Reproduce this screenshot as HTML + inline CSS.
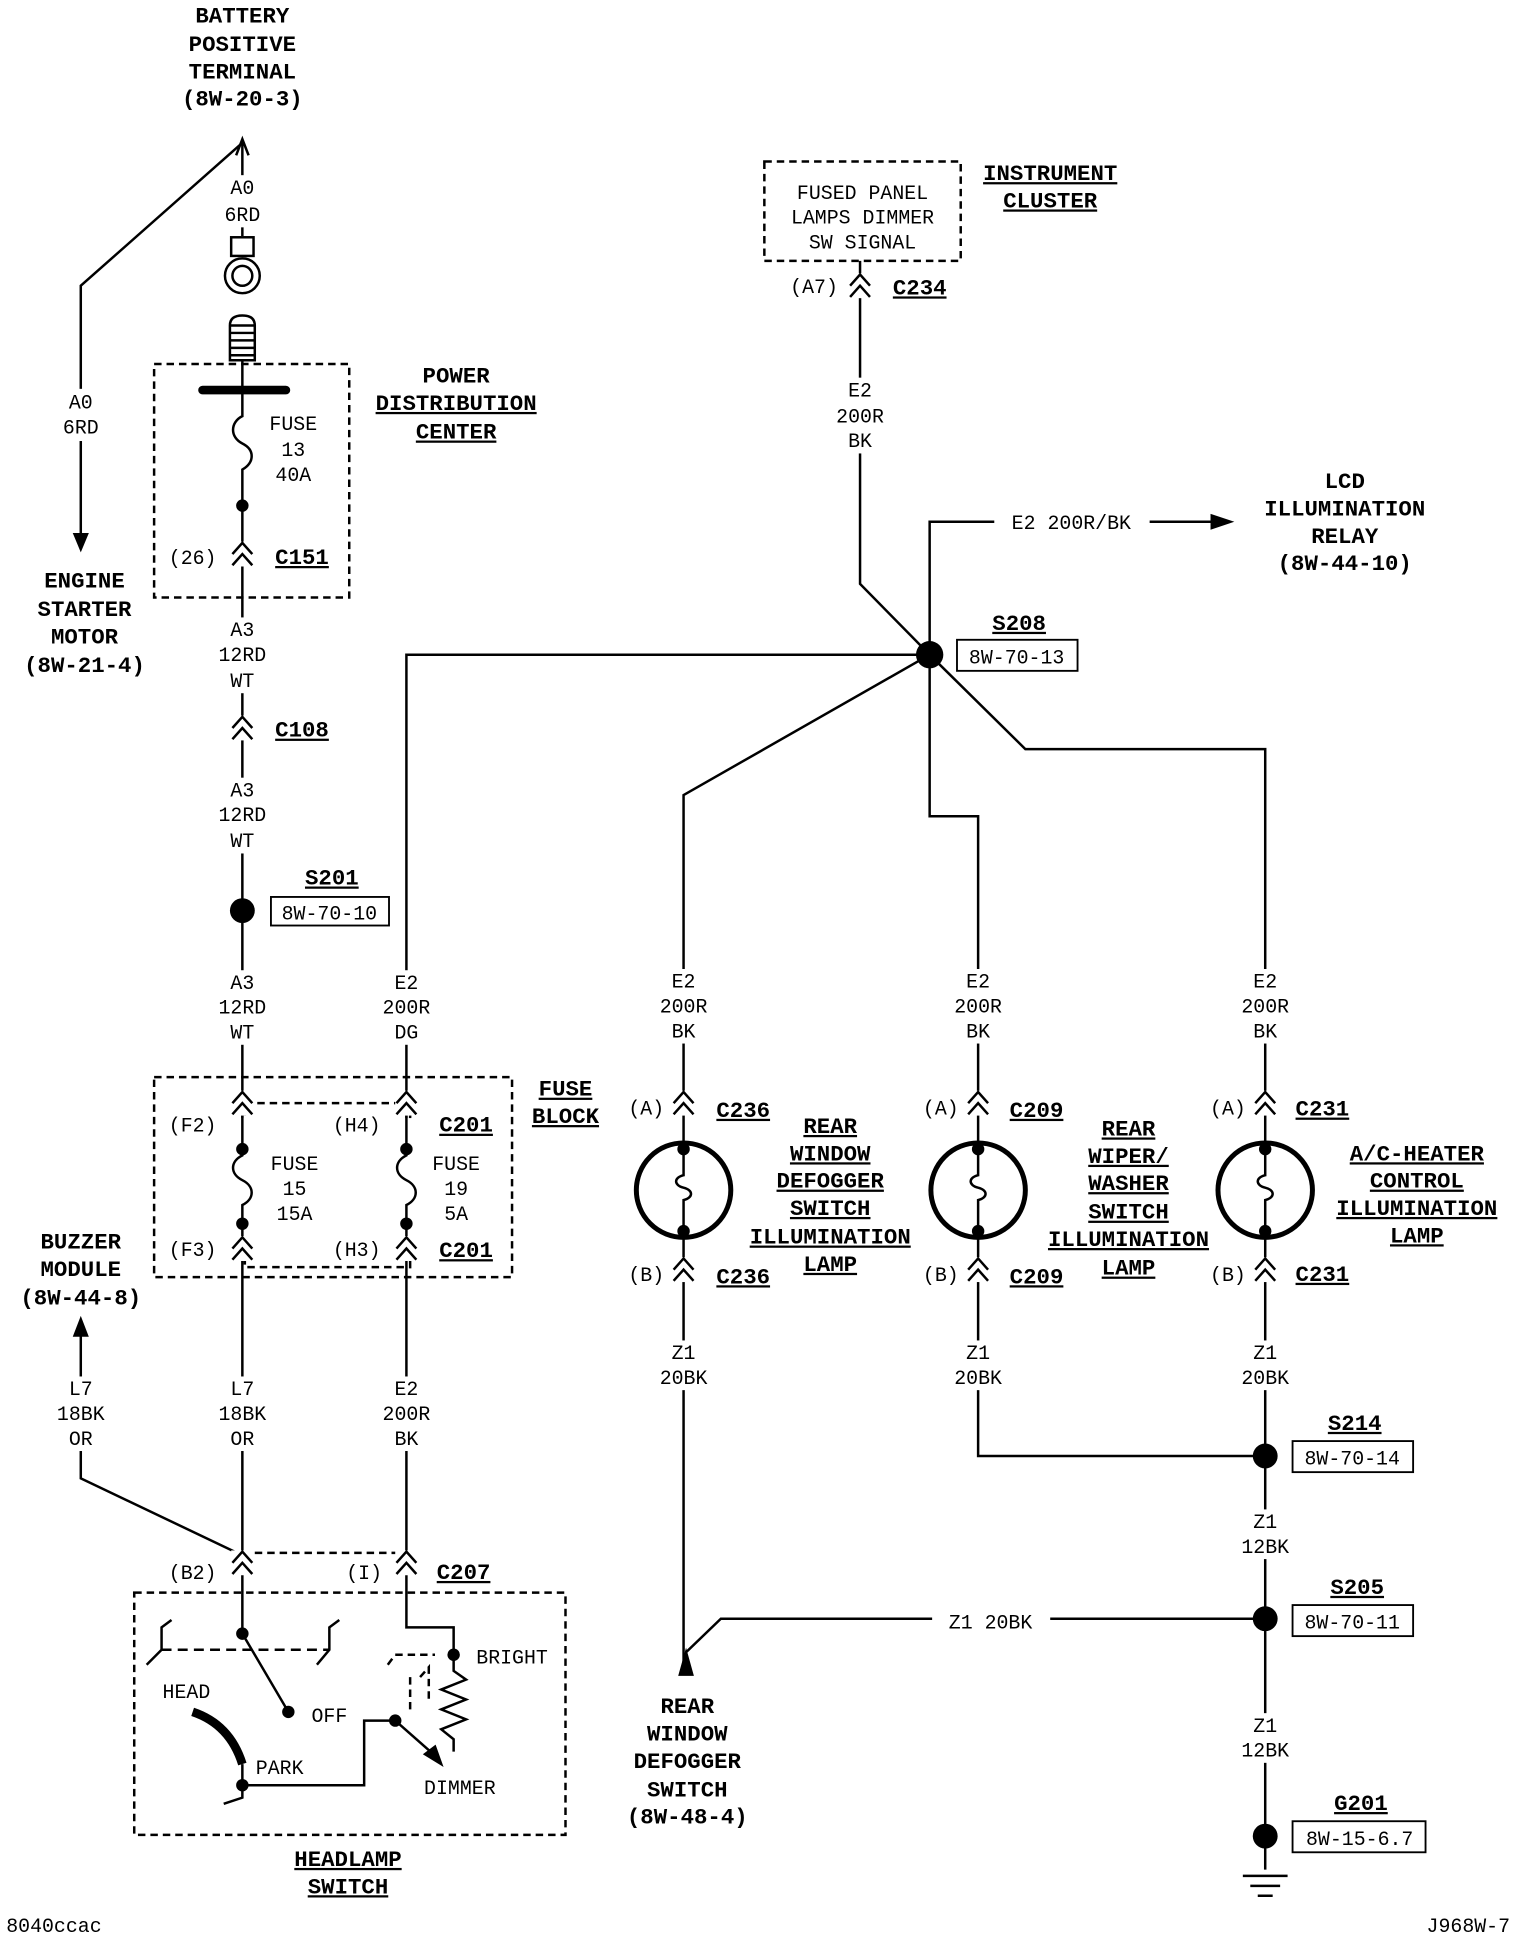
<!DOCTYPE html>
<html><head><meta charset="utf-8"><style>
html,body{margin:0;padding:0;background:#fff}
svg{display:block}
text{font-family:"Liberation Mono",monospace;fill:#000}
.b{font-weight:bold;font-size:18px}
.r{font-size:16px}
.u{text-decoration:underline}
</style></head><body>
<svg width="1520" height="1938" viewBox="0 0 1223 1560" preserveAspectRatio="none" xmlns="http://www.w3.org/2000/svg">
<defs>
<g id="ch"><rect x="-9" y="-6" width="18" height="20" fill="#fff"/><path d="M-8,4 L0,-5 L8,4 M-8,13 L0,4 L8,13" fill="none" stroke="#000" stroke-width="2"/></g>
</defs>
<g stroke="#000" stroke-width="2" fill="none">
<path d="M195,115 L195,190 M195,115 L65,230 L65,435"/>
<path d="M190,125 L195,112 L200,125" />
<path d="M60,430 L65,442 L70,430Z" fill="#000"/>
<rect x="186" y="191" width="18" height="15"/>
<circle cx="195" cy="222" r="14"/><circle cx="195" cy="222" r="8"/>
<path d="M185,290 L185,262 Q185,254 195,254 Q205,254 205,262 L205,290 Z M185,262 H205 M185,268 H205 M185,274 H205 M185,280 H205 M185,286 H205"/>
<path d="M195,290 V314"/>
<path d="M163,314 H230" stroke-width="7" stroke-linecap="round"/>
<path d="M195,314 V335 C185,340 185,352 195,357 C205,362 205,372 195,378 V460"/>
<rect x="124" y="293" width="157" height="188" stroke-dasharray="6,4"/>
<path d="M195,460 V1258"/>
<path d="M327,1258 V527 H748"/>
<rect x="124" y="867" width="288" height="161" stroke-dasharray="6,4"/>
<rect x="197" y="888" width="133" height="132" stroke-dasharray="6,4"/>
<rect x="190" y="900" width="145" height="115" fill="#fff" stroke="none"/>
<path d="M195,888 V930 C185,935 185,945 195,950 C205,955 205,965 195,970 V1012"/>
<path d="M327,888 V930 C317,935 317,945 327,950 C337,955 337,965 327,970 V1012"/>
<path d="M60,1075 L65,1062 L70,1075Z" fill="#000"/>
<path d="M65,1075 V1190 L195,1252"/>
<path d="M195,1250 H327" stroke-dasharray="6,4"/>
<rect x="108" y="1282" width="347" height="195" stroke-dasharray="6,4"/>
<path d="M195,1258 V1315 L232,1378"/>
<path d="M130,1328 H265" stroke-dasharray="8,5"/>
<path d="M118,1340 L130,1328 L130,1310 L138,1304 M255,1340 L265,1328 L265,1310 L273,1304"/>
<path d="M155,1378 Q185,1388 195,1420" stroke-width="7"/>
<path d="M195,1420 V1447 L180,1452 M195,1437 H293 V1385 H318"/>
<path d="M327,1258 V1310 H365 V1345 L375,1352 L355,1360 L375,1368 L355,1376 L375,1384 L355,1392 L365,1400 V1410"/>
<path d="M318,1385 L352,1415"/><path d="M342,1412 L355,1420 L350,1406Z" fill="#000"/>
<path d="M312,1340 L318,1332 H350 M338,1350 L345,1342 V1370 M330,1350 V1380" stroke-dasharray="6,4"/>
<rect x="615" y="130" width="158" height="80" stroke-dasharray="6,4"/>
<path d="M692,210 V470 L748,527"/>
<path d="M748,527 V420 H978"/>
<path d="M975,415 L990,420 L975,425Z" fill="#000"/>
<path d="M748,527 L550,640 V1340"/>
<path d="M748,527 V657 H787 V1172 H1018"/>
<path d="M748,527 L825,603 H1018 V1505"/>
<path d="M1018,1303 H580 L552,1330"/>
<path d="M547,1348 L552,1330 L557,1348Z" fill="#000"/>
<path d="M1000,1510 H1036 M1006,1518 H1030 M1012,1526 H1024"/>
</g>
<g stroke="#000" fill="none">
<g transform="translate(550,958)"><circle r="38" fill="#fff" stroke-width="4"/><path d="M0,-33 V-12 C-8,-10 -8,-4 0,-2 C8,0 8,6 0,8 V33" stroke-width="2"/></g>
<g transform="translate(787,958)"><circle r="38" fill="#fff" stroke-width="4"/><path d="M0,-33 V-12 C-8,-10 -8,-4 0,-2 C8,0 8,6 0,8 V33" stroke-width="2"/></g>
<g transform="translate(1018,958)"><circle r="38" fill="#fff" stroke-width="4"/><path d="M0,-33 V-12 C-8,-10 -8,-4 0,-2 C8,0 8,6 0,8 V33" stroke-width="2"/></g>
</g>
<g fill="#000">
<circle cx="195" cy="407" r="5"/><circle cx="195" cy="733" r="10"/>
<circle cx="195" cy="925" r="5"/><circle cx="195" cy="985" r="5"/>
<circle cx="327" cy="925" r="5"/><circle cx="327" cy="985" r="5"/>
<circle cx="195" cy="1315" r="5"/><circle cx="232" cy="1378" r="5"/><circle cx="195" cy="1437" r="5"/><circle cx="318" cy="1385" r="5"/><circle cx="365" cy="1332" r="5"/>
<circle cx="748" cy="527" r="11"/>
<circle cx="550" cy="925" r="5"/><circle cx="550" cy="991" r="5"/>
<circle cx="787" cy="925" r="5"/><circle cx="787" cy="991" r="5"/>
<circle cx="1018" cy="925" r="5"/><circle cx="1018" cy="991" r="5"/>
<circle cx="1018" cy="1172" r="10"/><circle cx="1018" cy="1303" r="10"/><circle cx="1018" cy="1478" r="10"/>
</g>
<use href="#ch" x="195" y="442"/><use href="#ch" x="195" y="582"/>
<use href="#ch" x="195" y="884"/><use href="#ch" x="327" y="884"/>
<use href="#ch" x="195" y="1001"/><use href="#ch" x="327" y="1001"/>
<use href="#ch" x="195" y="1254"/><use href="#ch" x="327" y="1254"/>
<use href="#ch" x="692" y="226"/>
<use href="#ch" x="550" y="884"/><use href="#ch" x="787" y="884"/><use href="#ch" x="1018" y="884"/>
<use href="#ch" x="550" y="1018"/><use href="#ch" x="787" y="1018"/><use href="#ch" x="1018" y="1018"/>
<g fill="#fff" stroke="#000" stroke-width="1.5">
<rect x="218" y="722" width="95" height="23"/><rect x="770" y="515" width="97" height="25"/>
<rect x="1040" y="1160" width="97" height="25"/><rect x="1040" y="1292" width="97" height="25"/><rect x="1040" y="1466" width="107" height="25"/>
</g>
<g fill="#fff">
<rect x="800" y="410" width="125" height="20"/>
<rect x="750" y="1294" width="95" height="20"/>
<rect x="175" y="141" width="40" height="42"/>
<rect x="45" y="313" width="40" height="42"/>
<rect x="173" y="497" width="44" height="61"/>
<rect x="173" y="626" width="44" height="61"/>
<rect x="173" y="781" width="44" height="60"/>
<rect x="305" y="781" width="44" height="60"/>
<rect x="43" y="1108" width="44" height="60"/>
<rect x="173" y="1108" width="44" height="60"/>
<rect x="305" y="1108" width="44" height="60"/>
<rect x="670" y="304" width="44" height="61"/>
<rect x="528" y="780" width="44" height="60"/>
<rect x="765" y="780" width="44" height="60"/>
<rect x="996" y="780" width="44" height="60"/>
<rect x="528" y="1079" width="44" height="40"/>
<rect x="765" y="1079" width="44" height="40"/>
<rect x="996" y="1079" width="44" height="40"/>
<rect x="996" y="1215" width="44" height="40"/>
<rect x="996" y="1379" width="44" height="40"/>
</g>
<g class="b" text-anchor="middle">
<text x="195" y="18">BATTERY</text><text x="195" y="41">POSITIVE</text><text x="195" y="63">TERMINAL</text><text x="195" y="85">(8W-20-3)</text>
<text x="68" y="473">ENGINE</text><text x="68" y="496">STARTER</text><text x="68" y="518">MOTOR</text><text x="68" y="541">(8W-21-4)</text>
<text x="367" y="308">POWER</text><text x="367" y="330" class="u">DISTRIBUTION</text><text x="367" y="353" class="u">CENTER</text>
<text x="243" y="454" class="u">C151</text><text x="243" y="593" class="u">C108</text>
<text x="267" y="712" class="u">S201</text>
<text x="455" y="882" class="u">FUSE</text><text x="455" y="904" class="u">BLOCK</text>
<text x="375" y="911" class="u">C201</text><text x="375" y="1012" class="u">C201</text>
<text x="65" y="1005">BUZZER</text><text x="65" y="1027">MODULE</text><text x="65" y="1050">(8W-44-8)</text>
<text x="373" y="1271" class="u">C207</text>
<text x="280" y="1502" class="u">HEADLAMP</text><text x="280" y="1524" class="u">SWITCH</text>
<text x="845" y="145" class="u">INSTRUMENT</text><text x="845" y="167" class="u">CLUSTER</text>
<text x="740" y="237" class="u">C234</text>
<text x="1082" y="393">LCD</text><text x="1082" y="415">ILLUMINATION</text><text x="1082" y="437">RELAY</text><text x="1082" y="459">(8W-44-10)</text>
<text x="820" y="507" class="u">S208</text>
<text x="598" y="899" class="u">C236</text><text x="834" y="899" class="u">C209</text><text x="1064" y="898" class="u">C231</text>
<text x="598" y="1033" class="u">C236</text><text x="834" y="1033" class="u">C209</text><text x="1064" y="1031" class="u">C231</text>
<text x="668" y="912" class="u">REAR</text><text x="668" y="934" class="u">WINDOW</text><text x="668" y="956" class="u">DEFOGGER</text><text x="668" y="978" class="u">SWITCH</text><text x="668" y="1001" class="u">ILLUMINATION</text><text x="668" y="1023" class="u">LAMP</text>
<text x="908" y="914" class="u">REAR</text><text x="908" y="936" class="u">WIPER/</text><text x="908" y="958" class="u">WASHER</text><text x="908" y="981" class="u">SWITCH</text><text x="908" y="1003" class="u">ILLUMINATION</text><text x="908" y="1026" class="u">LAMP</text>
<text x="1140" y="934" class="u">A/C-HEATER</text><text x="1140" y="956" class="u">CONTROL</text><text x="1140" y="978" class="u">ILLUMINATION</text><text x="1140" y="1000" class="u">LAMP</text>
<text x="1090" y="1151" class="u">S214</text><text x="1092" y="1283" class="u">S205</text><text x="1095" y="1457" class="u">G201</text>
<text x="553" y="1379">REAR</text><text x="553" y="1401">WINDOW</text><text x="553" y="1423">DEFOGGER</text><text x="553" y="1446">SWITCH</text><text x="553" y="1468">(8W-48-4)</text>
</g>
<g class="r" text-anchor="middle">
<text x="195" y="156">A0</text><text x="195" y="178">6RD</text>
<text x="65" y="329">A0</text><text x="65" y="349">6RD</text>
<text x="236" y="346">FUSE</text><text x="236" y="367">13</text><text x="236" y="387">40A</text>
<text x="155" y="454">(26)</text>
<text x="195" y="512">A3</text><text x="195" y="532">12RD</text><text x="195" y="553">WT</text>
<text x="195" y="641">A3</text><text x="195" y="661">12RD</text><text x="195" y="682">WT</text>
<text x="265" y="740">8W-70-10</text>
<text x="195" y="796">A3</text><text x="195" y="816">12RD</text><text x="195" y="836">WT</text>
<text x="327" y="796">E2</text><text x="327" y="816">200R</text><text x="327" y="836">DG</text>
<text x="155" y="911">(F2)</text><text x="287" y="911">(H4)</text>
<text x="155" y="1011">(F3)</text><text x="287" y="1011">(H3)</text>
<text x="237" y="942">FUSE</text><text x="237" y="962">15</text><text x="237" y="982">15A</text>
<text x="367" y="942">FUSE</text><text x="367" y="962">19</text><text x="367" y="982">5A</text>
<text x="65" y="1123">L7</text><text x="65" y="1143">18BK</text><text x="65" y="1163">OR</text>
<text x="195" y="1123">L7</text><text x="195" y="1143">18BK</text><text x="195" y="1163">OR</text>
<text x="327" y="1123">E2</text><text x="327" y="1143">200R</text><text x="327" y="1163">BK</text>
<text x="155" y="1271">(B2)</text><text x="293" y="1271">(I)</text>
<text x="150" y="1367">HEAD</text><text x="265" y="1386">OFF</text><text x="225" y="1428">PARK</text>
<text x="412" y="1339">BRIGHT</text><text x="370" y="1444">DIMMER</text>
<text x="694" y="160">FUSED PANEL</text><text x="694" y="180">LAMPS DIMMER</text><text x="694" y="200">SW SIGNAL</text>
<text x="655" y="236">(A7)</text>
<text x="692" y="319">E2</text><text x="692" y="340">200R</text><text x="692" y="360">BK</text>
<text x="862" y="426">E2 200R/BK</text>
<text x="818" y="534">8W-70-13</text>
<text x="550" y="795">E2</text><text x="550" y="815">200R</text><text x="550" y="835">BK</text>
<text x="787" y="795">E2</text><text x="787" y="815">200R</text><text x="787" y="835">BK</text>
<text x="1018" y="795">E2</text><text x="1018" y="815">200R</text><text x="1018" y="835">BK</text>
<text x="520" y="897">(A)</text><text x="757" y="897">(A)</text><text x="988" y="897">(A)</text>
<text x="520" y="1031">(B)</text><text x="757" y="1031">(B)</text><text x="988" y="1031">(B)</text>
<text x="550" y="1094">Z1</text><text x="550" y="1114">20BK</text>
<text x="787" y="1094">Z1</text><text x="787" y="1114">20BK</text>
<text x="1018" y="1094">Z1</text><text x="1018" y="1114">20BK</text>
<text x="1088" y="1179">8W-70-14</text>
<text x="1018" y="1230">Z1</text><text x="1018" y="1250">12BK</text>
<text x="1088" y="1311">8W-70-11</text>
<text x="797" y="1311">Z1 20BK</text>
<text x="1018" y="1394">Z1</text><text x="1018" y="1414">12BK</text>
<text x="1094" y="1485">8W-15-6.7</text>
<text x="5" y="1555" text-anchor="start">8040ccac</text>
<text x="1215" y="1555" text-anchor="end">J968W-7</text>
</g>
</svg>
</body></html>
